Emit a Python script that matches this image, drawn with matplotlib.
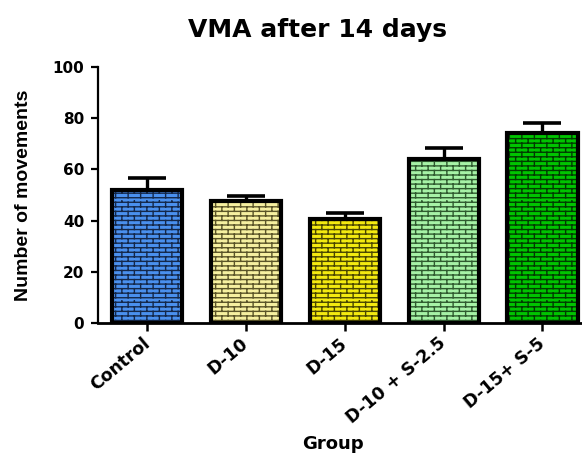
import warnings
import numpy as np
import matplotlib
matplotlib.use("Agg")
import matplotlib.pyplot as plt
from matplotlib import hatch as mhatch
from matplotlib.path import Path

warnings.filterwarnings("ignore")

groups = ["Control", "D-10", "D-15", "D-10 + S-2.5", "D-15+ S-5"]
means = [52.0, 47.8, 40.6, 63.9, 74.3]
sem = [4.6, 2.0, 2.4, 4.3, 3.9]
face_colors = ["#4a90ee", "#f6f0a0", "#f4ea10", "#a6f2a6", "#00c400"]
mortar_colors = ["#14284a", "#5a5428", "#4a4600", "#2f5a2f", "#003c00"]


class BrickHatch(mhatch.HatchPatternBase):
    # staggered brick pattern, used with hatch="b"
    def __init__(self, hatch, density):
        self.rows = 22 if "b" in hatch else 0
        self.cols = 8
        self.num_vertices = 2 * (self.rows + self.rows * self.cols)

    def set_vertices_and_codes(self, vertices, codes):
        k = 0
        for i in range(self.rows):
            y = (i + 0.5) / self.rows
            vertices[k] = (0.0, y)
            vertices[k + 1] = (1.0, y)
            codes[k] = Path.MOVETO
            codes[k + 1] = Path.LINETO
            k += 2
        for i in range(self.rows):
            y0 = (i + 0.5) / self.rows
            y1 = (i + 1.5) / self.rows
            off = 0.5 / self.cols if i % 2 else 0.0
            for j in range(self.cols):
                x = (j + 0.25) / self.cols + off
                vertices[k] = (x, y0)
                vertices[k + 1] = (x, y1)
                codes[k] = Path.MOVETO
                codes[k + 1] = Path.LINETO
                k += 2


mhatch._hatch_types.append(BrickHatch)

plt.rcParams["font.family"] = ["DejaVu Sans"]
plt.rcParams["font.weight"] = "bold"
plt.rcParams["hatch.linewidth"] = 1.0

fig = plt.figure(figsize=(5.82, 4.54), dpi=100)
ax = fig.add_axes([98 / 582, 1 - 323 / 454, 1 - 98 / 582, (323 - 67) / 454])

x = np.arange(len(groups))
width = 0.71

ax.errorbar(x, means, yerr=[np.zeros(len(sem)), sem], fmt="none", ecolor="black",
            elinewidth=2.4, capsize=14, capthick=2.6, zorder=1)
for i in range(len(groups)):
    ax.bar(x[i], means[i], width, color=face_colors[i], edgecolor=mortar_colors[i],
           linewidth=0, hatch="b", zorder=2)
ax.bar(x, means, width, fill=False, edgecolor="black", linewidth=3.0, zorder=3)

ax.set_xlim(-0.5, 4.4)
ax.set_ylim(0, 100)
ax.set_yticks([0, 20, 40, 60, 80, 100])
ax.set_xticks(x)
ax.set_xticklabels(groups, rotation=40, ha="right", va="center",
                   rotation_mode="anchor", fontsize=12.5, fontweight="bold")
ax.tick_params(axis="y", labelsize=11, width=1.6, length=5, pad=5)
ax.tick_params(axis="x", width=1.8, length=6, pad=7)
for lab in ax.get_yticklabels():
    lab.set_fontweight("bold")

ax.spines["top"].set_visible(False)
ax.spines["right"].set_visible(False)
ax.spines["left"].set_linewidth(1.6)
ax.spines["bottom"].set_linewidth(2.0)
ax.patch.set_visible(False)

fig.text(318 / 582, 1 - 30 / 454, "VMA after 14 days", ha="center", va="center",
         fontsize=18, fontweight="bold")
fig.text(24 / 582, 1 - 195 / 454, "Number of movements", rotation=90,
         ha="center", va="center", fontsize=14, fontweight="bold",
         family="Liberation Sans")
fig.text(333 / 582, 1 / 454, "Group", ha="center", va="bottom",
         fontsize=13, fontweight="bold")

fig.savefig("out.png", dpi=100)
